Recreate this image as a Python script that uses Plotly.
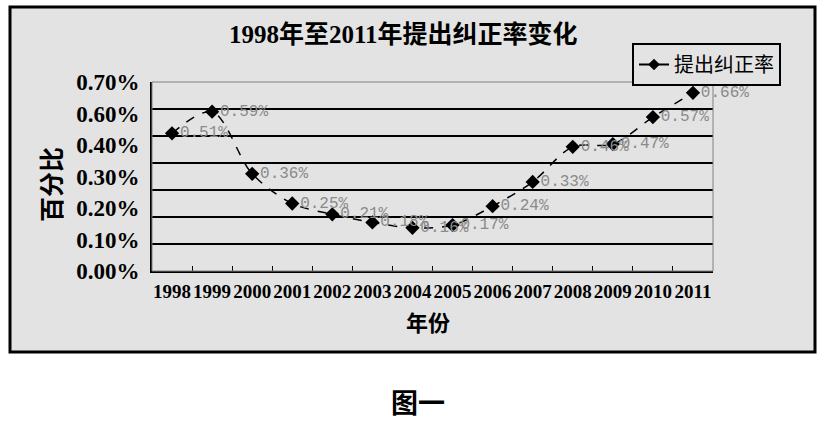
import plotly.graph_objects as go

years = ["1998", "1999", "2000", "2001", "2002", "2003", "2004",
         "2005", "2006", "2007", "2008", "2009", "2010", "2011"]
rates = [0.51, 0.59, 0.36, 0.25, 0.21, 0.18, 0.16,
         0.17, 0.24, 0.33, 0.46, 0.47, 0.57, 0.66]
y_tick_text = ["0.00%", "0.10%", "0.20%", "0.30%", "0.40%", "0.60%", "0.70%"]
grid_vals = [0.1, 0.2, 0.3, 0.4, 0.5, 0.6]

title_text = "1998年至2011年提出纠正率变化"
series_name = "提出纠正率"

W, H = 828, 421
ML, MR, MT, MB = 152, 115, 82, 150
PW, PH = W - ML - MR, H - MT - MB


def px(x):
    return (x - ML) / PW


def py(y):
    return (H - MB - y) / PH


serif = "Liberation Serif, Noto Sans CJK SC, serif"
cjk = "Noto Sans CJK SC, sans-serif"

fig = go.Figure()
fig.add_trace(go.Scatter(
    x=years, y=rates, mode="lines+markers+text",
    line=dict(color="black", width=1.5, dash="dash", shape="spline", smoothing=0.9),
    marker=dict(symbol="diamond", size=11, color="black"),
    text=[f"{v:.2f}%" for v in rates], textposition="middle right",
    textfont=dict(family="Liberation Mono, DejaVu Sans Mono, monospace", size=16, color="#8a8a8a"),
    cliponaxis=False, showlegend=False, name=series_name,
))
fig.add_trace(go.Scatter(
    x=[None], y=[None], mode="lines+markers", name=series_name,
    line=dict(color="black", width=2), marker=dict(symbol="diamond", size=9, color="black"),
))
# invisible trace to activate the grid axis
fig.add_trace(go.Scatter(x=[None], y=[None], yaxis="y2", showlegend=False, hoverinfo="skip"))

n = len(y_tick_text) - 1
fig.update_layout(
    width=W, height=H,
    margin=dict(l=ML, r=MR, t=MT, b=MB, autoexpand=False),
    paper_bgcolor="white", plot_bgcolor="#c0c0c0",
    xaxis=dict(type="category", range=[-0.5, len(years) - 0.5],
               showline=True, linecolor="black", linewidth=2,
               ticks="inside", tickson="boundaries", ticklen=5, tickcolor="black",
               showgrid=False, tickangle=0, automargin=False,
               tickfont=dict(family=serif, size=19, color="black", weight="bold"),
               ticklabelstandoff=2),
    yaxis=dict(range=[0, 0.7], tickvals=[0.7 * k / n for k in range(n + 1)],
               ticktext=y_tick_text, showgrid=False, zeroline=False, automargin=False,
               showline=True, linecolor="black", linewidth=2, ticks="",
               tickfont=dict(family=serif, size=23, color="black", weight="bold"),
               ticklabelstandoff=6),
    yaxis2=dict(range=[0, 0.7], overlaying="y", side="right", tickvals=grid_vals,
                showticklabels=False, showgrid=True, gridcolor="black", gridwidth=2,
                zeroline=False, ticks="", automargin=False),
    legend=dict(x=px(632), y=py(43), xanchor="left", yanchor="top",
                bgcolor="#e3e3e3", bordercolor="black", borderwidth=2,
                font=dict(family=cjk, size=20, color="black"),
                itemwidth=30, tracegroupgap=0),
    shapes=[
        dict(type="rect", xref="paper", yref="paper", x0=px(10), x1=px(815),
             y0=py(352), y1=py(7), fillcolor="#e3e3e3",
             line=dict(color="black", width=3), layer="below"),
        dict(type="rect", xref="paper", yref="paper", x0=0, x1=1, y0=0, y1=1,
             line=dict(color="#808080", width=1), layer="above"),
    ],
    annotations=[
        dict(text="<b>" + title_text + "</b>", xref="paper", yref="paper",
             x=px(403), y=py(34), xanchor="center", yanchor="middle", showarrow=False,
             font=dict(family=serif, size=25, color="black")),
        dict(text="<b>百分比</b>", xref="paper", yref="paper", x=px(50), y=py(185),
             xanchor="center", yanchor="middle", showarrow=False, textangle=-90,
             font=dict(family=cjk, size=25, color="black")),
        dict(text="<b>年份</b>", xref="paper", yref="paper", x=px(428), y=py(321),
             xanchor="center", yanchor="middle", showarrow=False,
             font=dict(family=cjk, size=22, color="black")),
        dict(text="<b>图一</b>", xref="paper", yref="paper", x=px(418), y=py(401),
             xanchor="center", yanchor="middle", showarrow=False,
             font=dict(family=cjk, size=27, color="black")),
    ],
)

fig.write_html(
    "out.html",
    config={"displayModeBar": False},
    post_script="document.body.style.margin='0';document.body.style.overflow='hidden';",
)
